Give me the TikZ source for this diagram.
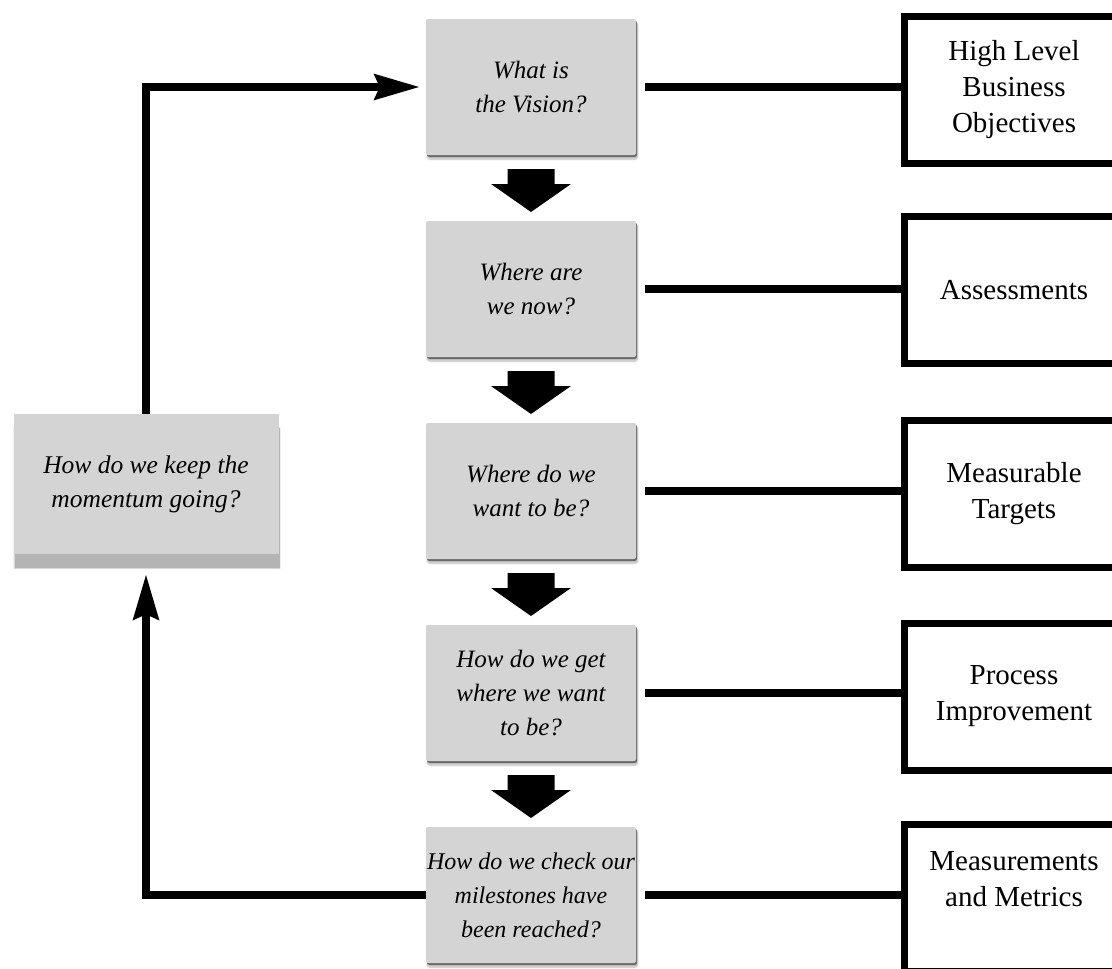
\documentclass[tikz,border=0pt]{standalone}
\usepackage{fontspec}
\setmainfont{Liberation Serif}
\usetikzlibrary{arrows.meta,shadows,shadows.blur,calc}

\definecolor{boxgrey}{RGB}{212,212,212}
\definecolor{edgegrey}{RGB}{105,105,105}
\definecolor{bandgrey}{RGB}{180,180,180}

\tikzset{
  question/.style={fill=boxgrey, rounded corners=2pt,
    minimum width=210pt, minimum height=136pt, inner sep=0pt, align=center,
    font=\fontsize{25}{34}\selectfont\itshape,
    blur shadow={shadow xshift=1.5pt, shadow yshift=-4pt,
                 shadow blur steps=6, shadow opacity=30},
    drop shadow={shadow xshift=1pt, shadow yshift=-1.8pt, fill=edgegrey, opacity=1}},
  keeper/.style={fill=boxgrey, minimum width=265pt, minimum height=140pt,
    inner sep=0pt, align=center, font=\fontsize{25.5}{34}\selectfont\itshape,
    blur shadow={shadow xshift=1pt, shadow yshift=-14pt,
                 shadow blur steps=6, shadow opacity=25},
    drop shadow={shadow xshift=1pt, shadow yshift=-14pt, fill=bandgrey, opacity=1}},
  outcome/.style={draw=black, line width=7pt, minimum width=220pt,
    minimum height=147pt, inner sep=0pt, align=center,
    font=\fontsize{29}{36}\selectfont},
  link/.style={line width=8pt, shorten <=9pt},
  loopline/.style={line width=8pt,
    -{Stealth[length=45pt, width=25pt, inset=5pt]}},
  blockarrow/.style={fill=black}
}

\newcommand\downblock[2]{%
  \fill[blockarrow] ($(#1.south)!0.5!(#2.north)$) ++(-23.5pt,19pt)
    -- ++(47pt,0pt) -- ++(0pt,-15pt) -- ++(16.5pt,0pt)
    -- ++(-40pt,-28pt) -- ++(-40pt,28pt) -- ++(16.5pt,0pt) -- cycle;}

\begin{document}
\begin{tikzpicture}[x=1pt, y=-1pt]
  \useasboundingbox (0,0) rectangle (1112,969);

  % question steps down the middle
  \node[question] (g1) at (531,87)  {What is\\the Vision?};
  \node[question] (g2) at (531,289) {Where are\\we now?};
  \node[question] (g3) at (531,491) {Where do we\\want to be?};
  \node[question] (g4) at (531,693) {How do we get\\where we want\\to be?};
  \node[question, font=\fontsize{24}{34}\selectfont\itshape] (g5) at (531,895)
    {How do we check our\\milestones have\\been reached?};

  % feedback step on the left
  \node[keeper] (lb) at (146,484) {How do we keep the\\momentum going?};

  % outcomes on the right
  \node[outcome] (r1) at (1014,90)    {High Level\\Business\\Objectives};
  \node[outcome] (r2) at (1014,290)   {Assessments};
  \node[outcome] (r3) at (1014,493.5) {Measurable\\Targets};
  \node[outcome] (r4) at (1014,696.5) {Process\\Improvement};
  \node[outcome, text depth=38pt] (r5) at (1014,898) {Measurements\\and Metrics};

  % block arrows between steps
  \downblock{g1}{g2}
  \downblock{g2}{g3}
  \downblock{g3}{g4}
  \downblock{g4}{g5}

  % links from each question to its outcome
  \foreach \i in {1,...,5}
    \draw[link] (g\i.east) -- (g\i.east -| r\i.west);

  % the feedback loop
  \draw[loopline, shorten >=6pt] (lb.north) -- (lb.north |- g1.west) -- (g1.west);
  \draw[loopline, shorten >=20pt] (g5.west) -- (g5.west -| lb.south) -- (lb.south);
\end{tikzpicture}
\end{document}
